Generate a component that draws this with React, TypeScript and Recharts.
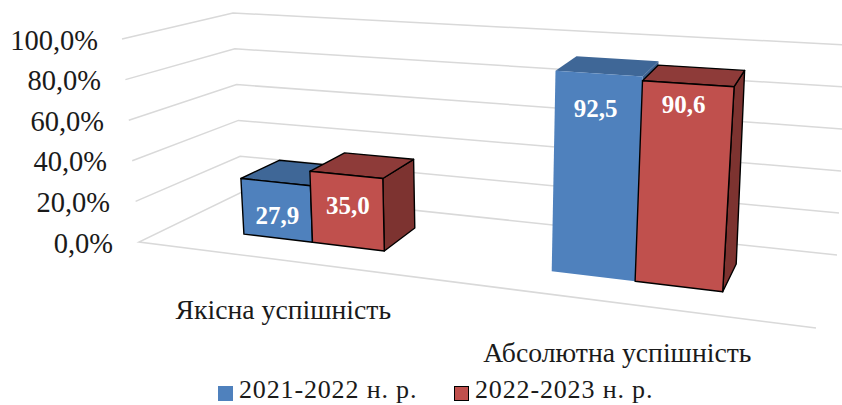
import React from 'react';
import { BarChart, Bar, XAxis, YAxis, CartesianGrid, Legend, LabelList } from 'recharts';

const categories = ['Якісна успішність', 'Абсолютна успішність'];
const values2122 = [27.9, 92.5];
const values2223 = [35.0, 90.6];
const valueTicks = [0, 20, 40, 60, 80, 100];
const series2122 = '2021-2022 н. р.';
const series2223 = '2022-2023 н. р.';

const FONT = '"Liberation Serif", serif';
const WIDTH = 842;
const HEIGHT = 405;

// plot rect the library scales work in, warped into the 3d box below
const PLOT = { left: 139, right: 814, top: 39, bottom: 242 };

// screen corners of the 3d box: front/back, bottom/top, left/right
const FBL = [139, 242];
const FBR = [816, 328];
const BBL = [242, 192];
const BBR = [837, 255];
const FTL = [122, 39];
const FTR = [837, 85];
const BTL = [233, 13];
const BTR = [847, 45];

const BAR_DEPTH_FRONT = 0.33;
const BAR_DEPTH_BACK = 0.73;

const mix = (a: number[], b: number[], t: number) => [a[0] + (b[0] - a[0]) * t, a[1] + (b[1] - a[1]) * t];

// foreshortening along the width
const warp = (u: number) => (0.82 * u) / (1 - 0.18 * u);

const project = (u: number, v: number, w: number) => {
  const s = warp(u);
  const bottom = mix(mix(FBL, FBR, s), mix(BBL, BBR, s), w);
  const top = mix(mix(FTL, FTR, s), mix(BTL, BTR, s), w);
  return mix(bottom, top, v);
};

const toU = (x: number) => (x - PLOT.left) / (PLOT.right - PLOT.left);
const toV = (y: number) => (PLOT.bottom - y) / (PLOT.bottom - PLOT.top);
const pts = (list: number[][]) => list.map((p) => `${p[0].toFixed(1)},${p[1].toFixed(1)}`).join(' ');

const Box3D = ({ x, y, width, index, front, top, side, outline }: any) => {
  const u0 = toU(x);
  const u1 = toU(x + width);
  const v = toV(y);
  const d0 = BAR_DEPTH_FRONT;
  const d1 = BAR_DEPTH_BACK;
  const stroke = outline(index) ? '#000' : 'none';
  const common = { stroke, strokeWidth: 1.4, strokeLinejoin: 'round' as const };
  return (
    <g>
      <polygon points={pts([project(u1, 0, d0), project(u1, 0, d1), project(u1, v, d1), project(u1, v, d0)])} fill={side} {...common} />
      <polygon points={pts([project(u0, v, d0), project(u1, v, d0), project(u1, v, d1), project(u0, v, d1)])} fill={top} {...common} />
      <polygon points={pts([project(u0, 0, d0), project(u1, 0, d0), project(u1, v, d0), project(u0, v, d0)])} fill={front} {...common} />
    </g>
  );
};

const barLabel = (nudgeX: number[], drops: number[]) => (props: any) => {
  const box = props.viewBox ?? props;
  const p = project(toU(box.x + box.width / 2), toV(box.y), BAR_DEPTH_FRONT);
  return (
    <text
      x={p[0] + nudgeX[props.index]}
      y={p[1] + drops[props.index]}
      textAnchor="middle"
      dominantBaseline="central"
      fill="#fff"
      fontFamily={FONT}
      fontWeight="bold"
      fontSize={25}
    >
      {Number(props.value).toFixed(1).replace('.', ',')}
    </text>
  );
};

const gridLine = (props: any) => {
  const v = toV(props.y1);
  const line = [project(0, v, 0), project(0, v, 1), project(1, v, 1)];
  if (v === 0) line.unshift(project(1, 0, 0));
  return <polyline key={props.key} points={pts(line)} fill="none" stroke="#D9D9D9" strokeWidth={1.5} />;
};

const ValueTick = ({ y, payload }: any) => {
  const right = 113 - 15 * toV(y);
  return (
    <text x={right} y={y + 1} textAnchor="end" dominantBaseline="central" fill="#1a1a1a" fontFamily={FONT} fontSize={28.5}>
      {payload.value.toFixed(1).replace('.', ',')}%
    </text>
  );
};

const CategoryTick = ({ x, index, payload }: any) => {
  const p = project(toU(x), 0, 0);
  return (
    <text
      x={p[0] - (index === 0 ? 1 : 3)}
      y={p[1] + 49}
      textAnchor="middle"
      dominantBaseline="central"
      fill="#1a1a1a"
      fontFamily={FONT}
      fontSize={27.7}
    >
      {payload.value}
    </text>
  );
};

const LegendRow = ({ payload }: any) => (
  <div style={{ position: 'relative', height: 0 }}>
    {(payload ?? []).map((entry: any, i: number) => (
      <div
        key={entry.value}
        style={{ position: 'absolute', left: i === 0 ? 218 : 454, top: 0, display: 'flex', alignItems: 'center', whiteSpace: 'nowrap' }}
      >
        <span
          style={{
            width: 15,
            height: 15,
            marginRight: 6,
            position: 'relative',
            top: 3,
            boxSizing: 'border-box',
            background: entry.color,
            border: i === 1 ? '1.5px solid #000' : 'none',
          }}
        />
        <span style={{ fontFamily: FONT, fontSize: 26, letterSpacing: 0.85, color: '#1a1a1a', lineHeight: '24px', height: 24 }}>
          {entry.value}
        </span>
      </div>
    ))}
  </div>
);

const data = categories.map((name, i) => ({ name, a: values2122[i], b: values2223[i] }));

export default function App() {
  return (
    <div style={{ position: 'absolute', left: 0, top: 0, width: WIDTH, height: HEIGHT, background: '#fff' }}>
      <BarChart
        width={WIDTH}
        height={HEIGHT}
        data={data}
        barCategoryGap="26%"
        barGap={0}
        margin={{ top: PLOT.top, right: WIDTH - PLOT.right, bottom: 0, left: PLOT.left - 100 }}
      >
        <CartesianGrid vertical={false} horizontal={gridLine} />
        <XAxis dataKey="name" height={HEIGHT - PLOT.bottom} interval={0} tickLine={false} axisLine={false} tick={<CategoryTick />} />
        <YAxis width={100} domain={[0, 100]} ticks={valueTicks} interval={0} tickLine={false} axisLine={false} tick={<ValueTick />} />
        <Legend
          content={<LegendRow />}
          wrapperStyle={{ position: 'absolute', left: 0, top: 378, width: WIDTH, height: 0 }}
        />
        <Bar
          dataKey="a"
          name={series2122}
          fill="#4F81BD"
          isAnimationActive={false}
          shape={(p: any) => <Box3D {...p} front="#4F81BD" top="#3F6797" side="#3A5E8C" outline={(i: number) => i === 0} />}
        >
          <LabelList dataKey="a" content={barLabel([2, -3], [33, 35])} />
        </Bar>
        <Bar
          dataKey="b"
          name={series2223}
          fill="#C0504D"
          isAnimationActive={false}
          shape={(p: any) => <Box3D {...p} front="#C0504D" top="#8E3B39" side="#7D3330" outline={() => true} />}
        >
          <LabelList dataKey="b" content={barLabel([2, -4], [31, 21])} />
        </Bar>
      </BarChart>
    </div>
  );
}
